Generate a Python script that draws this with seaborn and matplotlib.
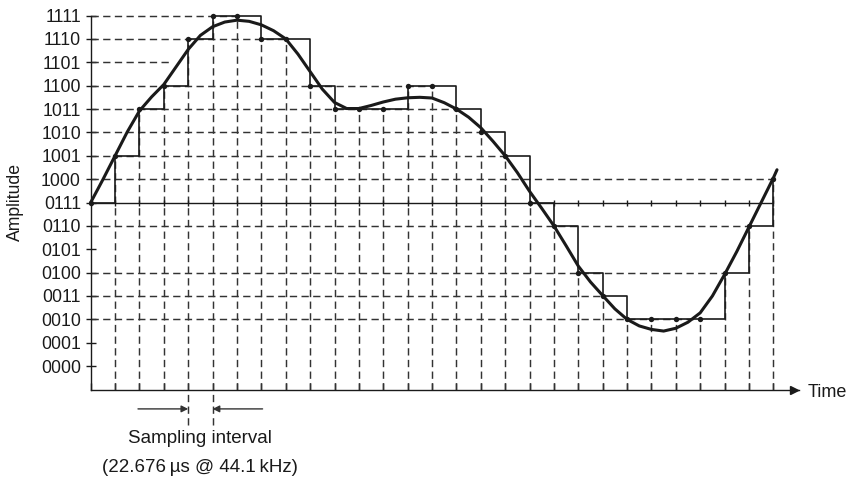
import numpy as np
import pandas as pd
import matplotlib
matplotlib.use("Agg")
import matplotlib.pyplot as plt
import seaborn as sns

# ---------------- data ----------------
level_labels = ["0000", "0001", "0010", "0011", "0100", "0101", "0110", "0111",
                "1000", "1001", "1010", "1011", "1100", "1101", "1110", "1111"]
level_values = list(range(16))

sample_index = list(range(29))
sample_values = [7, 9, 11, 12, 14, 15, 15, 14, 14, 12, 11, 11, 11, 12, 12, 11,
                 10, 9, 7, 6, 4, 3, 2, 2, 2, 2, 4, 6, 8]

curve_t = [0, 0.5, 1, 1.5, 2, 2.5, 3, 3.5, 4, 4.5, 5, 5.5, 6, 6.5, 7, 7.5, 8,
           8.5, 9, 9.5, 10, 10.5, 11, 11.5, 12, 12.5, 13, 13.5, 14, 14.5, 15,
           15.5, 16, 16.5, 17, 17.5, 18, 18.5, 19, 19.5, 20, 20.5, 21, 21.5,
           22, 22.5, 23, 23.5, 24, 24.5, 25, 25.5, 26, 26.5, 27, 27.5, 28, 28.15]
curve_v = [7.0, 7.98, 9.0, 10.02, 10.92, 11.52, 12.05, 12.8, 13.55, 14.15,
           14.52, 14.72, 14.8, 14.75, 14.6, 14.35, 14.0, 13.35, 12.6, 11.85,
           11.28, 11.02, 11.02, 11.15, 11.3, 11.42, 11.48, 11.5, 11.47, 11.27,
           11.0, 10.65, 10.2, 9.62, 9.0, 8.28, 7.48, 6.75, 6.0, 5.15, 4.28,
           3.6, 3.02, 2.45, 2.0, 1.72, 1.57, 1.5, 1.62, 1.88, 2.28, 3.0, 3.92,
           4.9, 5.95, 7.0, 8.05, 8.4]

midline_level = 7
guide_1101_level = 13
guide_1101_end = 3.3
interval_marks = [4, 5]
x_label = "Time"
y_label = "Amplitude"
interval_lines = ["Sampling interval", "(22.676\u2009\u00b5s @ 44.1\u2009kHz)"]

# ---------------- style ----------------
sns.set_theme(style="ticks")
plt.rcParams["font.family"] = ["Liberation Sans", "DejaVu Sans"]

W, H = 852, 479
fig = plt.figure(figsize=(W / 100, H / 100), dpi=100)
x0_px, xunit = 90.7, 24.38
ybot_px, yunit = 389.5, 23.375
xmax = 29.05
ymin, ymax = -1.0, 15.5
ax = fig.add_axes([x0_px / W, (H - ybot_px) / H,
                   xmax * xunit / W, (ymax - ymin) * yunit / H])
ax.set_xlim(0, xmax)
ax.set_ylim(ymin, ymax)

dash_col = "#333333"
dash_ls = (0, (5, 3))
dash_lw = 1.05

# horizontal dashed guides: from axis to last sample at that level
for v in level_values:
    if v == midline_level:
        continue
    idx = [i for i, s in zip(sample_index, sample_values) if s == v]
    if idx:
        ax.hlines(v, 0, max(idx), colors=dash_col, linestyles=dash_ls, lw=dash_lw, zorder=1)
ax.hlines(guide_1101_level, 0, guide_1101_end, colors=dash_col, linestyles=dash_ls,
          lw=dash_lw, zorder=1)

# vertical dashed guides from time axis to each sample
for i, s in zip(sample_index[1:], sample_values[1:]):
    lo = -2.52 if i in interval_marks else ymin
    ax.vlines(i, lo, s, colors=dash_col, linestyles=dash_ls, lw=dash_lw, zorder=1,
              clip_on=False)

# midline (0111) with small ticks at each sample
ax.hlines(midline_level, 0, sample_index[-1], colors="k", lw=1, zorder=2)
ax.plot(sample_index, [midline_level] * len(sample_index), ls="none", marker="|",
        ms=5, mew=1, color="k", zorder=2)

df_s = pd.DataFrame({"t": sample_index, "v": sample_values})
df_c = pd.DataFrame({"t": curve_t, "v": curve_v})

# quantised staircase
sns.lineplot(data=df_s, x="t", y="v", drawstyle="steps-post", color="k", lw=1.2,
             ax=ax, zorder=3, sort=False)
# analog signal
sns.lineplot(data=df_c, x="t", y="v", color="k", lw=2.2, ax=ax, zorder=4,
             sort=False, clip_on=False)
# sample points
sns.scatterplot(data=df_s, x="t", y="v", color="k", s=15, linewidth=0, ax=ax,
                zorder=5, clip_on=False)

# axes
for sp in ["top", "right"]:
    ax.spines[sp].set_visible(False)
for sp in ["left", "bottom"]:
    ax.spines[sp].set_color("k")
    ax.spines[sp].set_linewidth(1)
ax.spines["left"].set_bounds(ymin, 15)
ax.plot(28.85, ymin, marker=">", ms=6, color="k", clip_on=False, zorder=6)

ax.set_yticks(level_values, labels=level_labels)
ax.tick_params(axis="y", direction="inout", length=7.5, width=1, color="k",
               pad=3.3, labelsize=12.7, labelcolor="k")
ax.set_xticks(sample_index, labels=[""] * len(sample_index))
ax.tick_params(axis="x", direction="in", length=5, width=1, color="k")
ax.grid(False)

ax.set_xlabel("")
ax.set_ylabel(y_label, fontsize=12.7, color="k")
ax.yaxis.set_label_coords(-0.0949, 0.4857)
ax.text(29.42, -1.33, x_label, ha="left", va="baseline", fontsize=13, color="k",
        clip_on=False)

# sampling interval annotation
arrow_kw = dict(arrowstyle="-|>", color="#333333", lw=1, shrinkA=0, shrinkB=0,
                mutation_scale=10)
ax.annotate("", xy=(interval_marks[0], -1.83), xytext=(1.94, -1.83),
            arrowprops=arrow_kw, annotation_clip=False)
ax.annotate("", xy=(interval_marks[1], -1.83), xytext=(7.05, -1.83),
            arrowprops=arrow_kw, annotation_clip=False)
mid = (interval_marks[0] + interval_marks[1]) / 2
ax.text(mid, -3.30, interval_lines[0], ha="center", va="baseline", fontsize=13.5,
        color="#1a1a1a", clip_on=False)
ax.text(mid, -4.52, interval_lines[1], ha="center", va="baseline", fontsize=13.5,
        color="#1a1a1a", clip_on=False)

fig.savefig("out.png", dpi=100)
